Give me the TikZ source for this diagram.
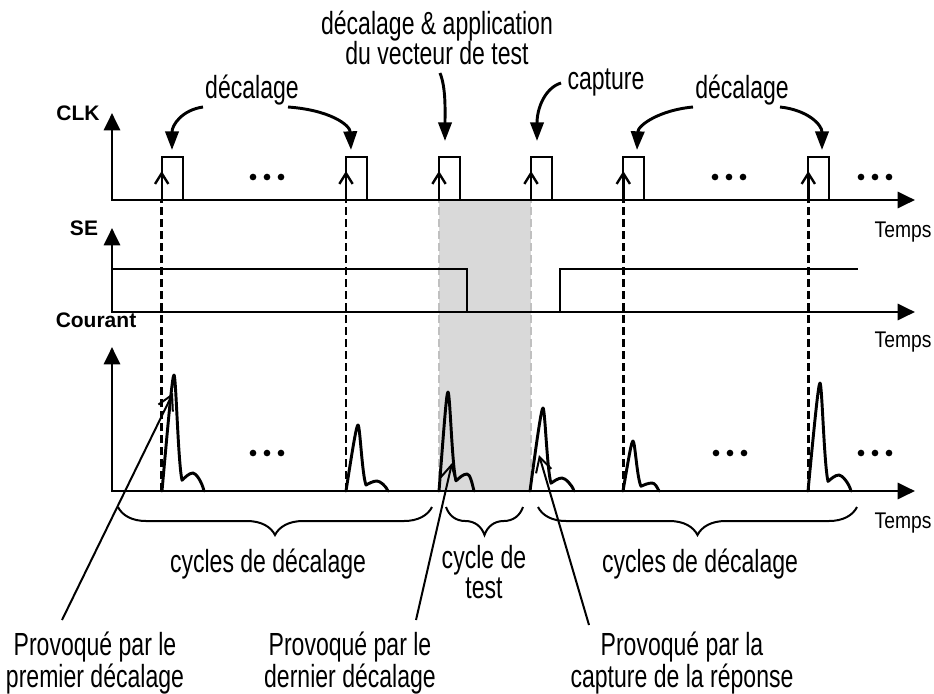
\documentclass[tikz,border=0pt]{standalone}
\usepackage{fontspec}
\setmainfont{Liberation Sans}
\newfontfamily\lblfont[FakeStretch=0.72]{Liberation Sans}
\newfontfamily\tmpfont[FakeStretch=0.85]{Liberation Sans}
\usetikzlibrary{arrows.meta,decorations.pathreplacing}
\definecolor{testgray}{RGB}{217,217,217}
\definecolor{dashgray}{RGB}{192,192,192}
\newcommand\spk[5]{%
 \draw[spike] (#1,491) .. controls ({#1+0.6*(#2-#1)},{491-0.7*#3}) and ({#2-1.5},{491-#3}) .. (#2,{491-#3})
  .. controls ({#2+2},{491-#3}) and ({#2+4},{491-0.25*#3}) .. ({#2+8},{491-0.6*#5})
  .. controls ({#2+11},{491-0.75*#5}) and ({#2+15},{491-#5}) .. ({#2+19},{491-#5})
  .. controls ({#2+22},{491-#5}) and ({#4-2},{491-0.5*#5}) .. (#4,491);}
\newcommand\threedots[2]{\fill (#1-14,#2) circle (2.5pt) (#1,#2) circle (2.5pt) (#1+14,#2) circle (2.5pt);}
\begin{document}
\begin{tikzpicture}[x=0.75pt,y=-0.75pt,
  axis/.style={line width=2.2pt, line join=miter, {Triangle[length=13pt,width=12pt]}-{Triangle[length=13pt,width=12pt]}},
  pulse/.style={line width=1.5pt, line join=miter},
  sesig/.style={line width=1.5pt, line join=miter},
  spike/.style={line width=2.2pt, line join=round, line cap=round},
  guide/.style={line width=2pt, dash pattern=on 6pt off 3pt},
  gguide/.style={guide, draw=dashgray},
  uparr/.style={line width=1.8pt, -{Straight Barb[length=8pt,width=10pt]}},
  curv/.style={line width=2.2pt, -{Triangle[length=14pt,width=10pt]}},
  ptr/.style={line width=1.5pt, -{Straight Barb[length=11pt,width=12pt]}},
  brc/.style={line width=1.5pt, decorate, decoration={brace,mirror,amplitude=21pt}},
  lbl/.style={font=\lblfont\fontsize{24}{22.5}\selectfont, inner sep=0pt, align=center},
  axlbl/.style={font=\bfseries\fontsize{15.75}{18}\selectfont, inner sep=0pt},
  tlbl/.style={font=\tmpfont\fontsize{17}{20}\selectfont, inner sep=0pt}
]
\useasboundingbox (0,0) rectangle (934,693);

% test-cycle shading
\fill[testgray] (439,200) rectangle (531,491);

% coordinates of the axes
\coordinate (clkTop) at (112,113); \coordinate (clkO) at (112,200); \coordinate (clkEnd) at (915,200);
\coordinate (seTop) at (112,228);  \coordinate (seO) at (112,312);  \coordinate (seEnd) at (915,312);
\coordinate (cuTop) at (112,347);  \coordinate (cuO) at (112,491);  \coordinate (cuEnd) at (915,491);

% guide lines (dashed) and small up arrows
\foreach \n/\x in {1/161.7,2/346,5/623.3,6/808.3}{
  \coordinate (g\n b) at (\x,491); \coordinate (g\n m) at (\x,200); \coordinate (g\n t) at (\x,171);
  \draw[guide] (g\n b) -- (g\n m);
  \draw[uparr] (g\n m) -- (g\n t);
}
\foreach \n/\x in {3/439,4/531}{
  \coordinate (g\n b) at (\x,491); \coordinate (g\n m) at (\x,200); \coordinate (g\n t) at (\x,171);
  \draw[gguide] (g\n b) -- (g\n m);
  \draw[uparr] (g\n m) -- (g\n t);
}

% clock pulses
\foreach \x in {161.7,346,439,531,623.3,808.3}{
  \draw[pulse] (\x,200) -- (\x,157) -- (\x+21,157) -- (\x+21,200);
}

% SE signal
\draw[sesig] (112,269) -- (466.7,269) -- (466.7,312);
\draw[sesig] (560,312) -- (560,269) -- (858,269);

% axes
\draw[axis] (clkTop) -- (clkO) -- (clkEnd);
\draw[axis] (seTop) -- (seO) -- (seEnd);
\draw[axis] (cuTop) -- (cuO) -- (cuEnd);

% current spikes
\spk{162}{174}{116}{204}{18}
\spk{346}{358}{66}{388}{10}
\spk{439}{448}{99}{474}{17}
\spk{530}{543}{83}{574}{13}
\spk{623}{633}{50}{659}{8}
\spk{808}{820}{108}{851}{16}

% dots
\threedots{267}{177}
\threedots{729}{177}
\threedots{875}{177}
\threedots{267}{453}
\threedots{730}{453}
\threedots{875}{453}

% axis labels
\node[axlbl] (clk) at (78,113) {CLK};
\node[axlbl] (se) at (84,228) {SE};
\node[axlbl] (cour) at (96,320) {Courant};
\node[tlbl] (tp1) at (903,232) {Temps};
\node[tlbl] (tp2) at (903,342) {Temps};
\node[tlbl] (tp3) at (903,523) {Temps};

% top annotations
\node[lbl] (dec1) at (252,90) {décalage};
\node[lbl] (appl) at (437,38) {décalage \& application\\du vecteur de test};
\node[lbl] (capt) at (606,82) {capture};
\node[lbl] (dec2) at (742,90) {décalage};

\coordinate (a1s) at (203,107); \coordinate (a1e) at (172,150);
\coordinate (a2s) at (288,107); \coordinate (a2e) at (351,150);
\coordinate (a3s) at (440,73);  \coordinate (a3e) at (445,141);
\coordinate (a4s) at (561,83);  \coordinate (a4e) at (537,141);
\coordinate (a5s) at (693,107); \coordinate (a5e) at (637,150);
\coordinate (a6s) at (780,107); \coordinate (a6e) at (822,150);
\draw[curv] (a1s) .. controls (182,110) and (172,125) .. (a1e);
\draw[curv] (a2s) .. controls (330,110) and (350,125) .. (a2e);
\draw[curv] (a3s) .. controls (446,88) and (445,110) .. (a3e);
\draw[curv] (a4s) .. controls (545,88) and (537,108) .. (a4e);
\draw[curv] (a5s) .. controls (660,110) and (638,125) .. (a5e);
\draw[curv] (a6s) .. controls (808,110) and (822,125) .. (a6e);

% braces
\coordinate (b1l) at (118,507); \coordinate (b1r) at (432,507);
\coordinate (b2l) at (446,507); \coordinate (b2r) at (523,507);
\coordinate (b3l) at (538,507); \coordinate (b3r) at (857,507);
\draw[brc] (b1l) -- (b1r);
\draw[brc] (b2l) -- (b2r);
\draw[brc] (b3l) -- (b3r);
\node[lbl] (cyc1) at (268,564) {cycles de décalage};
\node[lbl] (cyct) at (484,572) {cycle de\\test};
\node[lbl] (cyc2) at (700,564) {cycles de décalage};

% bottom explanations
\node[lbl] (pv1) at (95,663) {Provoqué par le\\premier décalage};
\node[lbl] (pv2) at (350,663) {Provoqué par le\\dernier décalage};
\node[lbl] (pv3) at (682,663) {Provoqué par la\\capture de la réponse};

\coordinate (p1s) at (62,620);  \coordinate (p1e) at (173,393);
\coordinate (p2s) at (416,620); \coordinate (p2e) at (452,463);
\coordinate (p3s) at (589,625); \coordinate (p3e) at (539,455);
\draw[ptr] (p1s) -- (p1e);
\draw[ptr] (p2s) -- (p2e);
\draw[ptr] (p3s) -- (p3e);
\end{tikzpicture}
\end{document}
